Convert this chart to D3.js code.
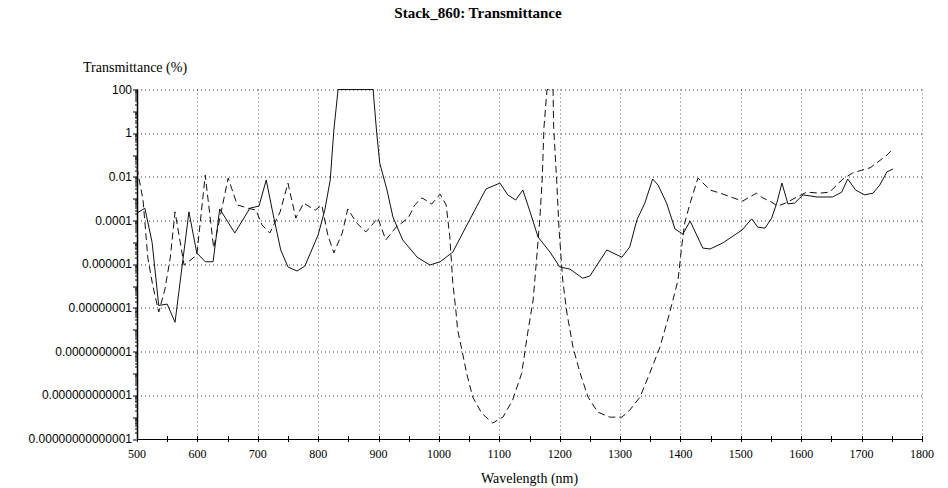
<!DOCTYPE html>
<html>
<head>
<meta charset="utf-8">
<script src="https://cdn.jsdelivr.net/npm/d3@7/dist/d3.min.js"></script>
<style>
  body { margin: 0; background: #fff; }
  .title { font-family: "Liberation Serif", serif; font-weight: bold; font-size: 15px; }
  .axis-title { font-family: "Liberation Serif", serif; font-size: 14px; }
  .ytick { font-family: "Liberation Sans", sans-serif; font-size: 12px; }
  .xtick { font-family: "Liberation Serif", serif; font-size: 12px; }
</style>
</head>
<body>
<div id="chart"></div>
<script>
// wavelength (nm) and transmittance (%)
var solidWl = [500, 513, 525, 536, 550, 563, 586, 599, 613, 626, 637, 662, 687, 702, 714, 725, 738, 750, 765, 778,
  800, 811, 820, 826, 833, 891, 897, 902, 914, 924, 940, 964, 985, 1002, 1023, 1051, 1078, 1101, 1114, 1127,
  1139, 1151, 1164, 1184, 1200, 1217, 1238, 1250, 1278, 1303, 1316, 1328, 1341, 1354, 1363, 1377, 1391, 1404, 1416, 1437,
  1449, 1470, 1502, 1518, 1528, 1540, 1551, 1560, 1568, 1578, 1589, 1603, 1626, 1652, 1667, 1677, 1690, 1705, 1719, 1730,
  1742, 1752];
var solidT = [2.2e-4, 3.7e-4, 1.0e-5, 1.3e-8, 1.5e-8, 2.2e-9, 2.5e-4, 3.3e-6, 1.3e-6, 1.3e-6, 3.4e-4, 2.7e-5, 3.7e-4, 4.6e-4, 7.2e-3, 2.2e-4, 4.5e-6, 7.5e-7, 4.9e-7, 8.3e-7,
  2.2e-5, 3.0e-4, 7.2e-3, 1.4, 100, 100, 1.0, 0.043, 2.5e-3, 1.4e-4, 1.3e-5, 2.1e-6, 9.2e-7, 1.3e-6, 3.6e-6, 1.1e-4, 2.8e-3, 5.2e-3, 1.5e-3, 8.7e-4,
  2.5e-3, 2.5e-4, 1.8e-5, 3.6e-6, 7.5e-7, 6.0e-7, 2.3e-7, 2.9e-7, 4.5e-6, 2.1e-6, 6.2e-6, 1.1e-4, 6.3e-4, 8.0e-3, 4.2e-3, 6.3e-4, 4.1e-5, 2.4e-5, 9.5e-5, 5.5e-6,
  5.0e-6, 9.4e-6, 3.7e-5, 1.2e-4, 5.0e-5, 4.5e-5, 1.3e-4, 7.0e-4, 5.2e-3, 5.8e-4, 6.3e-4, 1.5e-3, 1.2e-3, 1.2e-3, 2.0e-3, 8.0e-3, 2.5e-3, 1.5e-3, 1.8e-3, 4.2e-3,
  0.017, 0.023];

var dashWl = [500, 510, 518, 526, 536, 546, 555, 563, 578, 599, 613, 627, 651, 666, 684, 697, 707, 720, 737, 750,
  763, 776, 795, 806, 816, 826, 840, 849, 864, 879, 899, 912, 929, 949, 960, 972, 988, 1002, 1012, 1018,
  1023, 1028, 1031, 1038, 1046, 1056, 1071, 1089, 1106, 1122, 1137, 1147, 1156, 1162, 1167, 1171, 1174, 1179, 1189, 1190,
  1195, 1199, 1205, 1212, 1222, 1234, 1247, 1263, 1283, 1303, 1316, 1333, 1349, 1366, 1382, 1396, 1402, 1407, 1416, 1429,
  1449, 1466, 1487, 1503, 1526, 1536, 1551, 1561, 1574, 1593, 1609, 1631, 1647, 1669, 1685, 1702, 1714, 1727, 1742, 1752];
var dashT = [0.026, 8.7e-4, 1.9e-6, 1.1e-7, 6.5e-9, 6.6e-8, 1.9e-6, 2.5e-4, 9.2e-7, 2.6e-6, 0.012, 5.5e-6, 8.9e-3, 5.2e-4, 3.7e-4, 3.0e-4, 6.3e-5, 2.7e-5, 2.5e-4, 5.2e-3,
  1.3e-4, 6.3e-4, 3.0e-4, 5.1e-4, 2.2e-5, 3.3e-6, 2.7e-5, 3.4e-4, 7.7e-5, 3.0e-5, 1.3e-4, 1.3e-5, 5.0e-5, 1.3e-4, 5.2e-4, 1.1e-3, 5.7e-4, 1.6e-3, 5.2e-4, 1.8e-5,
  1.4e-7, 8.0e-9, 9.8e-10, 1.2e-10, 1.0e-11, 8.3e-13, 1.5e-13, 5.4e-14, 1.0e-13, 6.0e-13, 1.0e-11, 7.1e-10, 2.3e-8, 2.1e-6, 1.1e-4, 7.2e-3, 1.9, 100, 100, 1.9,
  7.2e-3, 3.7e-5, 1.9e-7, 5.8e-9, 1.6e-10, 1.0e-11, 8.3e-13, 1.7e-13, 1.0e-13, 1.0e-13, 2.1e-13, 8.3e-13, 1.0e-11, 1.6e-10, 5.8e-9, 1.9e-7, 6.2e-6, 7.7e-5, 6.3e-4, 8.9e-3,
  2.5e-3, 1.8e-3, 1.1e-3, 7.8e-4, 1.8e-3, 1.1e-3, 7.0e-4, 4.6e-4, 6.3e-4, 1.2e-3, 2.0e-3, 1.8e-3, 2.0e-3, 8.0e-3, 0.015, 0.021, 0.026, 0.048, 0.10, 0.19];

var xTicks = [500, 600, 700, 800, 900, 1000, 1100, 1200, 1300, 1400, 1500, 1600, 1700, 1800];
var yTicks = [100, 1, 1e-2, 1e-4, 1e-6, 1e-8, 1e-10, 1e-12, 1e-14];
var yTickLabels = ["100", "1", "0.01", "0.0001", "0.000001", "0.00000001", "0.0000000001",
  "0.000000000001", "0.00000000000001"];

// set the dimensions and margins of the graph
var margin = {top: 89.5, right: 26, bottom: 49, left: 137},
    width = 948 - margin.left - margin.right,
    height = 488 - margin.top - margin.bottom;

var svg = d3.select("#chart").append("svg")
  .attr("width", 948)
  .attr("height", 488);

var chartGroup = svg.append("g")
  .attr("transform", `translate(${margin.left}, ${margin.top})`);

var x = d3.scaleLinear().domain([500, 1800]).range([0, width]);
var y = d3.scaleLog().domain([1e-14, 100]).range([height, 0]);

// dotted grid
chartGroup.append("g").selectAll("line.vgrid")
  .data(xTicks.slice(1))
  .enter().append("line")
  .attr("x1", d => Math.round(x(d)) + 0.5).attr("x2", d => Math.round(x(d)) + 0.5)
  .attr("y1", 0).attr("y2", height)
  .attr("stroke", "#666").attr("stroke-dasharray", "1,3");

chartGroup.append("g").selectAll("line.hgrid")
  .data(yTicks.slice(0, -1))
  .enter().append("line")
  .attr("x1", 0).attr("x2", width)
  .attr("y1", d => Math.round(y(d)) + 0.5).attr("y2", d => Math.round(y(d)) + 0.5)
  .attr("stroke", "#333").attr("stroke-dasharray", "1,3");

// x axis: line, ticks every 50 nm, labels every 100 nm
var xAxisG = chartGroup.append("g").attr("transform", `translate(0, ${height})`);
xAxisG.append("line").attr("x1", 0).attr("x2", width).attr("y1", 0.5).attr("y2", 0.5)
  .attr("stroke", "#000").attr("stroke-width", 1);
xAxisG.selectAll("line.tick")
  .data(d3.range(500, 1801, 50))
  .enter().append("line")
  .attr("x1", d => Math.round(x(d)) + 0.5).attr("x2", d => Math.round(x(d)) + 0.5)
  .attr("y1", -3).attr("y2", 3)
  .attr("stroke", "#000");
xAxisG.selectAll("text")
  .data(xTicks)
  .enter().append("text")
  .attr("class", "xtick")
  .attr("x", d => x(d))
  .attr("y", 19)
  .attr("text-anchor", "middle")
  .text(d => d);

// y axis: line, decade and minor ticks
var yAxisG = chartGroup.append("g");
yAxisG.append("line").attr("x1", 0.5).attr("x2", 0.5).attr("y1", 0).attr("y2", height)
  .attr("stroke", "#000").attr("stroke-width", 1.5);
var minor = [];
for (var e = -14; e < 2; e++) {
  for (var m = 1; m < 10; m++) minor.push(m * Math.pow(10, e));
}
minor.push(100);
yAxisG.selectAll("line.tick")
  .data(minor)
  .enter().append("line")
  .attr("x1", d => Math.abs(Math.log10(d) % 1) < 1e-9 ? -4 : -2)
  .attr("x2", 1)
  .attr("y1", d => Math.round(y(d)) + 0.5).attr("y2", d => Math.round(y(d)) + 0.5)
  .attr("stroke", "#000");
yAxisG.selectAll("text")
  .data(yTicks)
  .enter().append("text")
  .attr("class", "ytick")
  .attr("x", -5)
  .attr("y", d => y(d) + 4)
  .attr("text-anchor", "end")
  .text((d, i) => yTickLabels[i]);

// lines
var solidLine = d3.line()
  .x(d => x(d[0]))
  .y(d => y(d[1]));

chartGroup.append("path")
  .datum(d3.zip(solidWl, solidT))
  .attr("d", solidLine)
  .attr("fill", "none")
  .attr("stroke", "#111")
  .attr("stroke-width", 1);

chartGroup.append("path")
  .datum(d3.zip(dashWl, dashT))
  .attr("d", solidLine)
  .attr("fill", "none")
  .attr("stroke", "#111")
  .attr("stroke-width", 1)
  .attr("stroke-dasharray", "7,4");

// titles
svg.append("text")
  .attr("class", "title")
  .attr("x", 478).attr("y", 18)
  .attr("text-anchor", "middle")
  .text("Stack_860: Transmittance");

svg.append("text")
  .attr("class", "axis-title")
  .attr("x", 83).attr("y", 72)
  .text("Transmittance (%)");

svg.append("text")
  .attr("class", "axis-title")
  .attr("x", margin.left + width / 2).attr("y", 483)
  .attr("text-anchor", "middle")
  .text("Wavelength (nm)");
</script>
</body>
</html>
